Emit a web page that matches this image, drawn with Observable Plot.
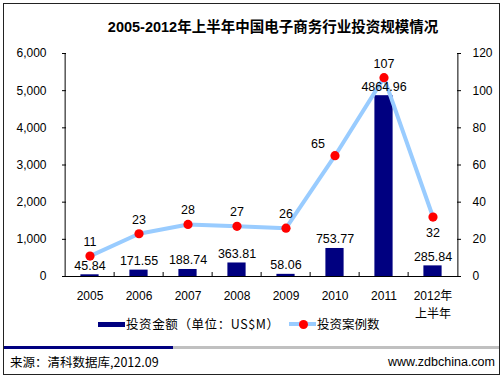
<!DOCTYPE html>
<html>
<head>
<meta charset="utf-8">
<script src="https://cdn.jsdelivr.net/npm/d3@7"></script>
<script src="https://cdn.jsdelivr.net/npm/@observablehq/plot@0.6"></script>
<style>
  html, body { margin: 0; padding: 0; background: #fff; }
  #wrap { position: relative; width: 504px; height: 377px; overflow: hidden;
          font-family: "Liberation Sans", Arial, "Noto Sans CJK SC", sans-serif; color: #000; }
  #border { position: absolute; left: 3px; top: 3px; width: 497px; height: 372px;
            box-sizing: border-box; border: 1px solid #222; }
  #chart { position: absolute; left: 0; top: 0; }
  #title { position: absolute; left: 273px; top: 18px; transform: translateX(-50%);
           white-space: nowrap; font-weight: bold; font-size: 14.5px; line-height: 18px; }
  .abs { position: absolute; }
  .lg { font-size: 12.5px; line-height: 14px; white-space: nowrap; font-family: "Noto Sans CJK SC", "Liberation Sans", sans-serif; }
  .ft { font-size: 12.5px; line-height: 14px; white-space: nowrap; }
</style>
</head>
<body>
<div id="wrap">
  <div id="border"></div>
  <div id="chart"></div>
  <div id="title">2005-2012年上半年中国电子商务行业投资规模情况</div>

  <div class="abs" style="left:98px;top:322px;width:27px;height:5px;background:#000080"></div>
  <div class="abs lg" style="left:126px;top:317px;letter-spacing:0.6px">投资金额（单位：US$M）</div>
  <div class="abs" style="left:289px;top:322px;width:27px;height:4px;background:#99ccff"></div>
  <div class="abs" style="left:298.5px;top:319.5px;width:9px;height:9px;border-radius:50%;background:#ff0000"></div>
  <div class="abs lg" style="left:317px;top:317px">投资案例数</div>

  <div class="abs" style="left:4px;top:346px;width:169px;height:3px;background:#000080"></div>
  <div class="abs" style="left:173px;top:346px;width:326px;height:3px;background:#c0c0c0"></div>
  <div class="abs ft" style="left:10px;top:355px;font-family:'Noto Sans CJK SC','Liberation Sans',sans-serif">来源：清科数据库,2012.09</div>
  <div class="abs ft" style="right:9px;top:355px">www.zdbchina.com</div>
</div>
<script>
const years = ["2005", "2006", "2007", "2008", "2009", "2010", "2011", "2012年\n上半年"];
const amounts = [45.84, 171.55, 188.74, 363.81, 58.06, 753.77, 4864.96, 285.84];
const amountLabels = ["45.84", "171.55", "188.74", "363.81", "58.06", "753.77", "4864.96", "285.84"];
const cases = [11, 23, 28, 27, 26, 65, 107, 32];
const leftTicks = [0, 1000, 2000, 3000, 4000, 5000, 6000];
const rightTicks = [0, 20, 40, 60, 80, 100, 120];

const W = 504, H = 320, mL = 62, mR = 44, mT = 53, mB = 44;
const bw = (W - mL - mR) / years.length;
const ratio = 6000 / 120; // right axis maps onto left axis
const tickLen = 4 * 6000 / (H - mT - mB);

const data = years.map((y, i) => ({year: y, amount: amounts[i], label: amountLabels[i], cases: cases[i], c2: cases[i] * ratio}));

const font = "'Liberation Sans', Arial, 'Noto Sans CJK SC', sans-serif";

const chart = Plot.plot({
  width: W, height: H,
  marginLeft: mL, marginRight: mR, marginTop: mT, marginBottom: mB,
  style: {fontFamily: font, fontSize: "12px", color: "#000", background: "transparent", overflow: "visible"},
  x: {type: "band", domain: years, padding: 0, label: null},
  y: {domain: [0, 6000], label: null},
  marks: [
    Plot.barY(data, {x: "year", y: "amount", fill: "#000080", insetLeft: 15.4, insetRight: 15.4}),
    // axis lines
    Plot.ruleY([0], {stroke: "#000"}),
    Plot.ruleX([years[0]], {dx: -bw / 2, stroke: "#000"}),
    Plot.ruleX([years[years.length - 1]], {dx: bw / 2, stroke: "#000"}),
    // category separators on x axis
    Plot.ruleX(years.slice(1), {x: d => d, y1: 0, y2: tickLen, dx: -bw / 2, stroke: "#000"}),
    Plot.axisX({tickSize: 0, tickPadding: 10, lineHeight: 1.55, fontSize: 12, label: null}),
    Plot.axisY({anchor: "left", ticks: leftTicks, tickFormat: d3.format(","), tickSize: -4, tickPadding: 20, fontSize: 12, label: null}),
    Plot.axisY({anchor: "right", ticks: rightTicks.map(v => v * ratio), tickFormat: d => String(d / ratio), tickSize: -4, tickPadding: 16, fontSize: 12, label: null}),
    // line series
    Plot.lineY(data, {x: "year", y: "c2", stroke: "#99ccff", strokeWidth: 4}),
    Plot.dot(data, {x: "year", y: "c2", r: 4.6, fill: "#ff0000"}),
    // bar labels
    Plot.text(data, {x: "year", y: "amount", text: "label", dy: -9, fontSize: 12.5, fill: "#000"}),
    // line labels
    Plot.text(data.filter(d => d.cases !== 65 && d.cases !== 32), {x: "year", y: "c2", text: d => String(d.cases), dy: -14, fontSize: 12.5, fill: "#000"}),
    Plot.text(data.filter(d => d.cases === 65), {x: "year", y: "c2", text: d => String(d.cases), dx: -17, dy: -12, fontSize: 12.5, fill: "#000"}),
    Plot.text(data.filter(d => d.cases === 32), {x: "year", y: "c2", text: d => String(d.cases), dy: 16, fontSize: 12.5, fill: "#000"})
  ]
});
document.getElementById("chart").appendChild(chart);
</script>
</body>
</html>
